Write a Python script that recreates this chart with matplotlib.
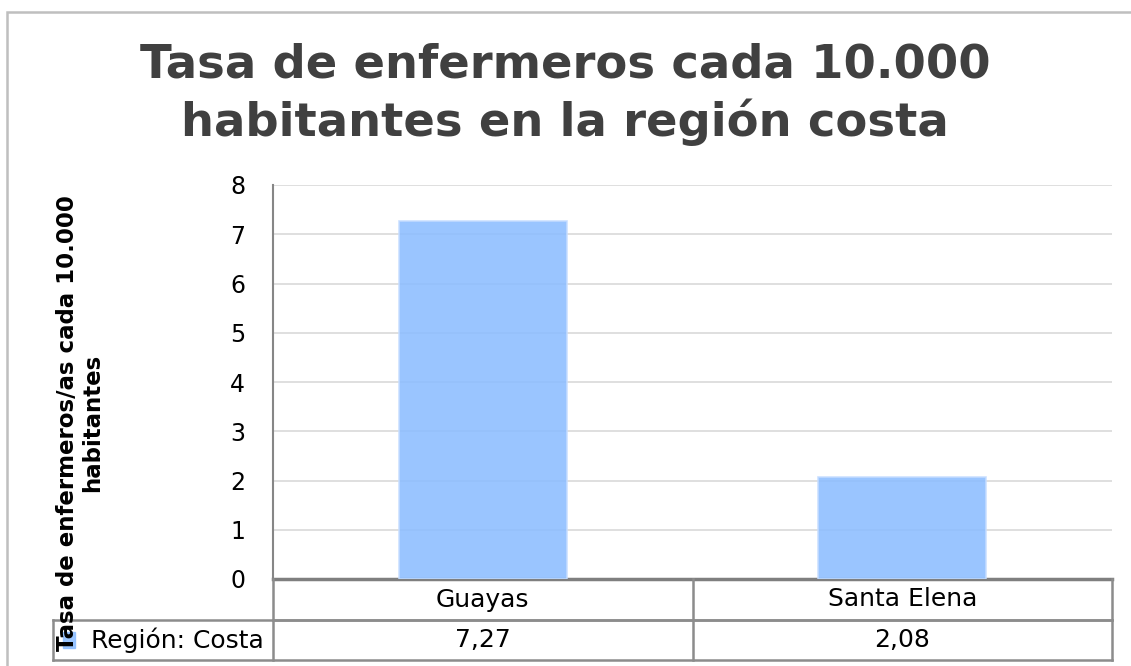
import matplotlib
matplotlib.use("Agg")
import matplotlib.pyplot as plt
from matplotlib.patches import Rectangle
import matplotlib.transforms as mtransforms

categories = ["Guayas", "Santa Elena"]
values = [7.27, 2.08]
value_labels = ["7,27", "2,08"]
series_name = "Región: Costa"
title = "Tasa de enfermeros cada 10.000\nhabitantes en la región costa"
ylabel = "Tasa de enfermeros/as cada 10.000\nhabitantes"
yticks = [0, 1, 2, 3, 4, 5, 6, 7, 8]

W, H = 1131, 666
fig = plt.figure(figsize=(W / 100, H / 100), dpi=100)
FONT = "DejaVu Sans"

# outer chart border
fig.patches.append(Rectangle((7 / W, -0.1), 1.5, (H - 12) / H + 0.1, transform=fig.transFigure,
                             fill=False, edgecolor="#BFBFBF", linewidth=1.8, zorder=0))

left, right, top, bottom = 273, 1112, 185, 579
ax = fig.add_axes([left / W, (H - bottom) / H, (right - left) / W, (bottom - top) / H])

x = list(range(len(categories)))
ax.bar(x, values, width=0.4, color="#8CBDFF", alpha=0.88, edgecolor="#C6DDFF", linewidth=1.2, zorder=3)
ax.set_xlim(-0.5, len(categories) - 0.5)
ax.set_ylim(0, 8)
ax.set_yticks(yticks)
ax.set_yticklabels([str(t) for t in yticks], fontsize=17, family=FONT, color="#000000")
ax.tick_params(axis="y", length=0, pad=20)
ax.set_xticks([])
ax.grid(axis="y", color="#D9D9D9", linewidth=1.2, zorder=0)
for s in ["top", "right"]:
    ax.spines[s].set_visible(False)
ax.spines["left"].set_color("#868686")
ax.spines["left"].set_linewidth(1.5)
ax.spines["bottom"].set_color("#7F7F7F")
ax.spines["bottom"].set_linewidth(2.5)

# data table below axis
trans = mtransforms.blended_transform_factory(ax.transData, ax.transAxes)
row_h = 41 / (bottom - top)
r1 = -row_h
r2 = -2 * row_h + 0.003
tab_left = (53 - left) / (right - left)
lc = "#8C8C8C"
lkw = dict(color=lc, linewidth=1.8, clip_on=False, zorder=5)
ax.plot([0, 1], [r1, r1], transform=ax.transAxes, **lkw)
ax.plot([tab_left, 1], [r1, r1], transform=ax.transAxes, **lkw)
ax.plot([tab_left, 1], [r2, r2], transform=ax.transAxes, **lkw)
ax.plot([0, 0], [0, r2], transform=ax.transAxes, **lkw)
ax.plot([1, 1], [0, r2], transform=ax.transAxes, **lkw)
ax.plot([tab_left, tab_left], [r1, r2], transform=ax.transAxes, **lkw)
for i in range(1, len(categories)):
    ax.plot([i - 0.5, i - 0.5], [0, r2], transform=trans, **lkw)

for i, (c, v) in enumerate(zip(categories, value_labels)):
    ax.text(i, r1 / 2, c, transform=trans, ha="center", va="center", fontsize=18, family=FONT)
    ax.text(i, (r1 + r2) / 2, v, transform=trans, ha="center", va="center", fontsize=18, family=FONT)

# legend key + series name
pw = right - left
ph = bottom - top
ax.add_patch(Rectangle((tab_left + 10 / pw, (r1 + r2) / 2 - 8 / ph), 12 / pw, 16 / ph,
                       transform=ax.transAxes, color="#8CBDFF", alpha=0.88, clip_on=False, zorder=6))
ax.text((264 - left) / pw, (r1 + r2) / 2, series_name, transform=ax.transAxes,
        ha="right", va="center", fontsize=18, family=FONT)

# y label
fig.text(80 / W, 1 - 423 / H, ylabel, rotation=90, ha="center", va="center", fontsize=16.5,
         fontweight="bold", family=FONT, linespacing=1.1, zorder=10)

# title
fig.text(565 / W, 1 - 94 / H, title, ha="center", va="center", fontsize=33.5, fontweight="bold",
         family=FONT, color="#404040", linespacing=1.3)

fig.savefig("out.png", dpi=100)
